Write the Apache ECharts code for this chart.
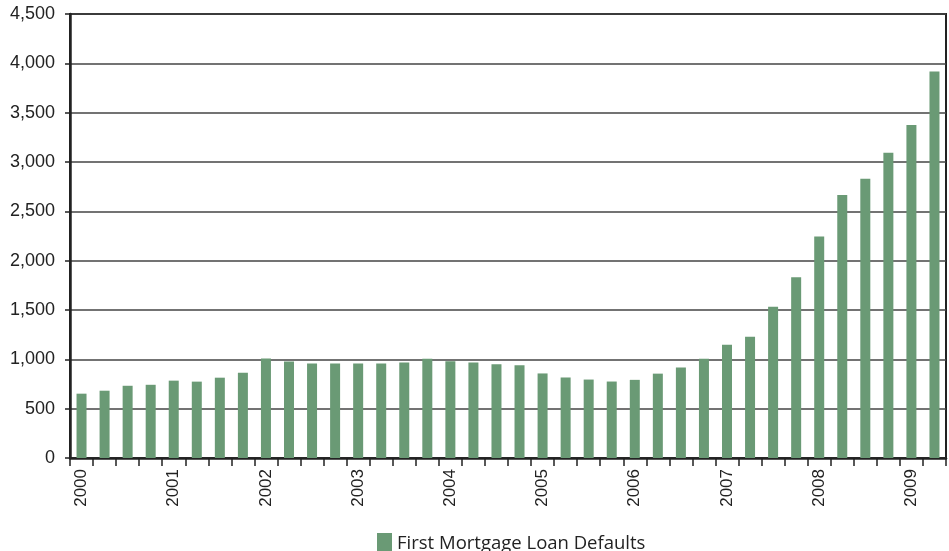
<!DOCTYPE html>
<html>
<head>
<meta charset="utf-8">
<script src="https://cdn.jsdelivr.net/npm/echarts@6/dist/echarts.min.js"></script>
<style>
html,body{margin:0;padding:0;background:#fff;}
#c{width:949px;height:551px;}
</style>
</head>
<body>
<div id="c"></div>
<script>
// Years and quarters of the category axis
var years = ['2000','2001','2002','2003','2004','2005','2006','2007','2008','2009'];
var quarters = ['Q1','Q2','Q3','Q4'];
var seriesName = 'First Mortgage Loan Defaults';
// Quarterly values, 2000 Q1 to 2009 Q2
var defaults = [652, 682, 732, 742, 784, 774, 814, 865,
                1008, 978, 958, 959, 959, 959, 969, 1007,
                980, 969, 949, 939, 857, 816, 795, 775,
                792, 855, 916, 1005, 1148, 1230, 1534, 1831,
                2246, 2665, 2829, 3094, 3376, 3916];
var yTicks = {min: 0, max: 4500, interval: 500};

var categories = [];
for (var y = 0; y < years.length; y++) {
  for (var q = 0; q < quarters.length; q++) {
    if (categories.length < defaults.length) categories.push(years[y] + ' ' + quarters[q]);
  }
}

var chart = echarts.init(document.getElementById('c'));
chart.setOption({
  animation: false,
  textStyle: {fontFamily: 'Liberation Sans, Arial, sans-serif'},
  grid: {left: 70, right: 3, top: 14, bottom: 93, show: true, borderColor: '#222', borderWidth: 2, containLabel: false},
  legend: {
    data: [seriesName], bottom: -9, left: 372,
    itemWidth: 15, itemHeight: 22, itemGap: 5,
    icon: 'rect',
    textStyle: {fontSize: 18.5, fontFamily: 'Open Sans', color: '#222', padding: [5, 0, 0, 0]}
  },
  xAxis: {
    type: 'category', data: categories, boundaryGap: true,
    axisLine: {lineStyle: {color: '#222', width: 2.5}},
    axisTick: {show: true, interval: 0, length: 8, lineStyle: {color: '#222', width: 1.5}},
    axisLabel: {
      interval: 0, rotate: 90, fontSize: 17, color: '#222', margin: 11,
      formatter: function (v) { return v.slice(-2) === 'Q1' ? v.slice(0, 4) : ''; }
    },
    splitLine: {show: false}
  },
  yAxis: {
    type: 'value', min: yTicks.min, max: yTicks.max, interval: yTicks.interval,
    axisLine: {show: true, lineStyle: {color: '#222', width: 2.5}},
    axisTick: {show: true, length: 5, lineStyle: {color: '#222', width: 1.5}},
    axisLabel: {fontSize: 18, color: '#222', margin: 15,
      formatter: function (v) { return v.toLocaleString('en-US'); }},
    splitLine: {show: true, lineStyle: {color: '#444', width: 1.5}}
  },
  series: [{
    name: seriesName, type: 'bar', data: defaults, barWidth: 10,
    itemStyle: {color: '#6a9a75'}
  }]
});
</script>
</body>
</html>
